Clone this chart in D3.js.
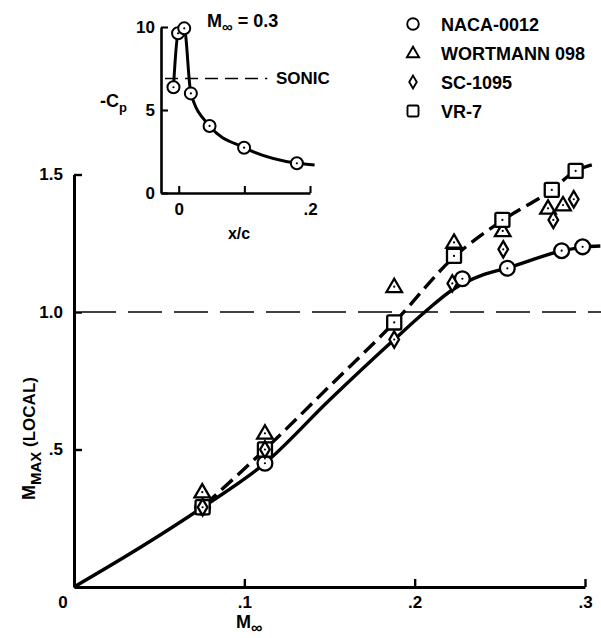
<!DOCTYPE html>
<html><head><meta charset="utf-8">
<script src="https://cdn.jsdelivr.net/npm/d3@7"></script>
<style>body{margin:0;background:#fff}svg{display:block}text{font-family:"Liberation Sans",Arial,sans-serif;font-weight:bold;fill:#000}</style>
</head><body>
<script>
// ---- data ----
const xTicks = [0.1, 0.2, 0.3];
const xTickLabels = [".1", ".2", ".3"];
const yTicks = [0.5, 1.0, 1.5];
const yTickLabels = [".5", "1.0", "1.5"];
const sonicLocal = 1.0;

const naca = [[0.0755,0.29],[0.1121,0.45],[0.2280,1.121],[0.2544,1.159],[0.2863,1.223],[0.2986,1.237]];
const wortmann = [[0.0753,0.345],[0.1121,0.559],[0.1880,1.092],[0.2231,1.253],[0.2517,1.295],[0.2783,1.377],[0.2871,1.389]];
const sc1095 = [[0.0755,0.29],[0.1121,0.50],[0.1880,0.90],[0.2221,1.104],[0.2520,1.228],[0.2814,1.335],[0.2934,1.41]];
const vr7 = [[0.0755,0.29],[0.1121,0.50],[0.1880,0.962],[0.2231,1.204],[0.2515,1.335],[0.2805,1.444],[0.2945,1.513]];

const solidCurve = [[0,0],[0.04,0.148],[0.0755,0.29],[0.1121,0.45],[0.15,0.68],[0.188,0.9],[0.206,1.0],[0.222,1.08],[0.24,1.135],[0.2544,1.16],[0.2863,1.222],[0.3,1.237],[0.309,1.24]];
const dashedCurve = [[0.077,0.30],[0.1121,0.50],[0.15,0.73],[0.188,0.962],[0.2231,1.20],[0.2515,1.333],[0.2805,1.444],[0.2945,1.513],[0.304,1.535]];

const legendNames = ["NACA-0012", "WORTMANN 098", "SC-1095", "VR-7"];
const legendShapes = ["circle", "triangle", "diamond", "square"];

// inset (Cp distribution, M = 0.3)
const insetPts = [[-0.008,6.37],[-0.001,9.62],[0.0084,9.92],[0.0185,6.0],[0.047,4.04],[0.0996,2.73],[0.18,1.79]];
const insetCurve = [[-0.008,6.37],[-0.001,9.62],[0.0084,9.92],[0.0185,6.0],[0.047,4.04],[0.0996,2.73],[0.18,1.79],[0.207,1.69]];
const insetXTicks = [0, 0.1, 0.2];
const insetXTickLabels = ["0", "", ".2"];
const insetYTicks = [0, 5, 10];
const insetYTickLabels = ["0", "5", "10"];
const sonicCp = 6.9;

// ---- drawing ----
const W = 601, H = 638;
const svg = d3.select("body").append("svg").attr("width", W).attr("height", H);
svg.append("rect").attr("width", W).attr("height", H).attr("fill", "#fff");

const x = d3.scaleLinear().domain([0, 0.3]).range([74, 585]);
const y = d3.scaleLinear().domain([0, 1.5]).range([587, 174.5]);

function styleAxis(g, sw) {
  g.select(".domain").attr("stroke-width", sw).attr("stroke", "#000");
  g.selectAll(".tick line").attr("stroke-width", sw * 0.8).attr("stroke", "#000");
  g.selectAll("text").attr("font-family", '"Liberation Sans",Arial,sans-serif').attr("font-weight", "bold").attr("fill", "#000");
}

// reference dashed line
svg.append("line").attr("x1", x(0)).attr("x2", x(0.31)).attr("y1", y(sonicLocal)).attr("y2", y(sonicLocal))
  .attr("stroke", "#000").attr("stroke-width", 1.6).attr("stroke-dasharray", "34,12").attr("stroke-dashoffset", -8);

// curves
const line = d3.line().x(d => x(d[0])).y(d => y(d[1])).curve(d3.curveMonotoneX);
svg.append("path").attr("d", line(solidCurve)).attr("fill", "none").attr("stroke", "#000").attr("stroke-width", 3.4);
svg.append("path").attr("d", line(dashedCurve)).attr("fill", "none").attr("stroke", "#000").attr("stroke-width", 3.4).attr("stroke-dasharray", "15,7");

// axes
const gx = svg.append("g").attr("transform", `translate(0,${y(0)})`)
  .call(d3.axisBottom(x).tickValues(xTicks).tickSize(-8).tickSizeOuter(0).tickPadding(9).tickFormat((d, i) => xTickLabels[i]));
styleAxis(gx, 3);
gx.selectAll("text").attr("font-size", 17);
const gy = svg.append("g").attr("transform", `translate(${x(0)},0)`)
  .call(d3.axisLeft(y).tickValues(yTicks).tickSize(-8).tickSizeOuter(0).tickPadding(11).tickFormat((d, i) => yTickLabels[i]));
styleAxis(gy, 3);
gy.selectAll("text").attr("font-size", 17);
svg.append("text").attr("x", 63).attr("y", 608).attr("text-anchor", "middle").attr("font-size", 17).text("0");

// axis titles
const xt = svg.append("text").attr("x", 236).attr("y", 628).attr("font-size", 18);
xt.append("tspan").text("M");
xt.append("tspan").attr("dy", 5).attr("font-size", 16).text("\u221E");

const yt = svg.append("text").attr("transform", "translate(35,500) rotate(-90)").attr("font-size", 18);
yt.append("tspan").text("M");
yt.append("tspan").attr("dy", 6).attr("font-size", 15).text("MAX");
yt.append("tspan").attr("dy", -6).attr("font-size", 17).text(" (LOCAL)");

// markers
function marker(g, shape, cx, cy, s, sw) {
  let el;
  if (shape === "circle") el = g.append("circle").attr("cx", cx).attr("cy", cy).attr("r", s);
  else if (shape === "triangle") {
    const h = s * 1.8, w = s * 1.05;
    el = g.append("path").attr("d", `M${cx},${cy - h * 0.6}L${cx + w},${cy + h * 0.4}L${cx - w},${cy + h * 0.4}Z`);
  } else if (shape === "diamond") {
    const hw = s * 0.65, hh = s * 1.1;
    el = g.append("path").attr("d", `M${cx},${cy - hh}L${cx + hw},${cy}L${cx},${cy + hh}L${cx - hw},${cy}Z`);
  } else {
    const h = s * 0.95;
    el = g.append("rect").attr("x", cx - h).attr("y", cy - h).attr("width", 2 * h).attr("height", 2 * h).attr("rx", 1.5);
  }
  el.attr("fill", "#fff").attr("stroke", "#000").attr("stroke-width", sw);
  return el;
}
function dot(g, cx, cy) { g.append("circle").attr("cx", cx).attr("cy", cy).attr("r", 1.1).attr("fill", "#000"); }

const gm = svg.append("g");
const series = [[naca, "circle"], [wortmann, "triangle"], [vr7, "square"], [sc1095, "diamond"]];
series.forEach(([arr, shape]) => {
  arr.forEach(d => { marker(gm, shape, x(d[0]), y(d[1]), 7.4, 2.3); dot(gm, x(d[0]), y(d[1])); });
});

// legend
const lg = svg.append("g");
legendNames.forEach((n, i) => {
  const cy = 24 + i * 29;
  marker(lg, legendShapes[i], 413, cy, 5.8, 1.9);
  lg.append("text").attr("x", 441).attr("y", cy + 6.5).attr("font-size", 18).text(n);
});

// ---- inset ----
const xi = d3.scaleLinear().domain([-0.027, 0.2]).range([161, 310]);
const yi = d3.scaleLinear().domain([0, 10]).range([193, 27]);

svg.append("line").attr("x1", xi(-0.027) + 4).attr("x2", xi(0.135)).attr("y1", yi(sonicCp)).attr("y2", yi(sonicCp))
  .attr("stroke", "#000").attr("stroke-width", 1.6).attr("stroke-dasharray", "13,7");
svg.append("text").attr("x", 276).attr("y", yi(sonicCp) + 6).attr("font-size", 17).text("SONIC");

const iline = d3.line().x(d => xi(d[0])).y(d => yi(d[1])).curve(d3.curveMonotoneX);
svg.append("path").attr("d", iline(insetCurve)).attr("fill", "none").attr("stroke", "#000").attr("stroke-width", 3);

const gix = svg.append("g").attr("transform", `translate(0,${yi(0)})`)
  .call(d3.axisBottom(xi).tickValues(insetXTicks).tickSize(-7).tickSizeOuter(0).tickPadding(10).tickFormat((d, i) => insetXTickLabels[i]));
styleAxis(gix, 2.6);
gix.selectAll("text").attr("font-size", 17);
const giy = svg.append("g").attr("transform", `translate(${xi(-0.027)},0)`)
  .call(d3.axisLeft(yi).tickValues(insetYTicks).tickSize(-7).tickSizeOuter(0).tickPadding(6).tickFormat((d, i) => insetYTickLabels[i]));
styleAxis(giy, 2.6);
giy.selectAll("text").attr("font-size", 17);

const gi = svg.append("g");
insetPts.forEach(d => { marker(gi, "circle", xi(d[0]), yi(d[1]), 6, 2); dot(gi, xi(d[0]), yi(d[1])); });

const mt = svg.append("text").attr("x", 207).attr("y", 27).attr("font-size", 18);
mt.append("tspan").text("M");
mt.append("tspan").attr("dy", 5).attr("font-size", 15).text("\u221E");
mt.append("tspan").attr("dy", -5).text(" = 0.3");

const ct = svg.append("text").attr("x", 100).attr("y", 107).attr("font-size", 18);
ct.append("tspan").text("-C");
ct.append("tspan").attr("dy", 5).attr("font-size", 13).text("p");

svg.append("text").attr("x", 239).attr("y", 239).attr("text-anchor", "middle").attr("font-size", 16).text("x/c");
</script>
</body></html>
